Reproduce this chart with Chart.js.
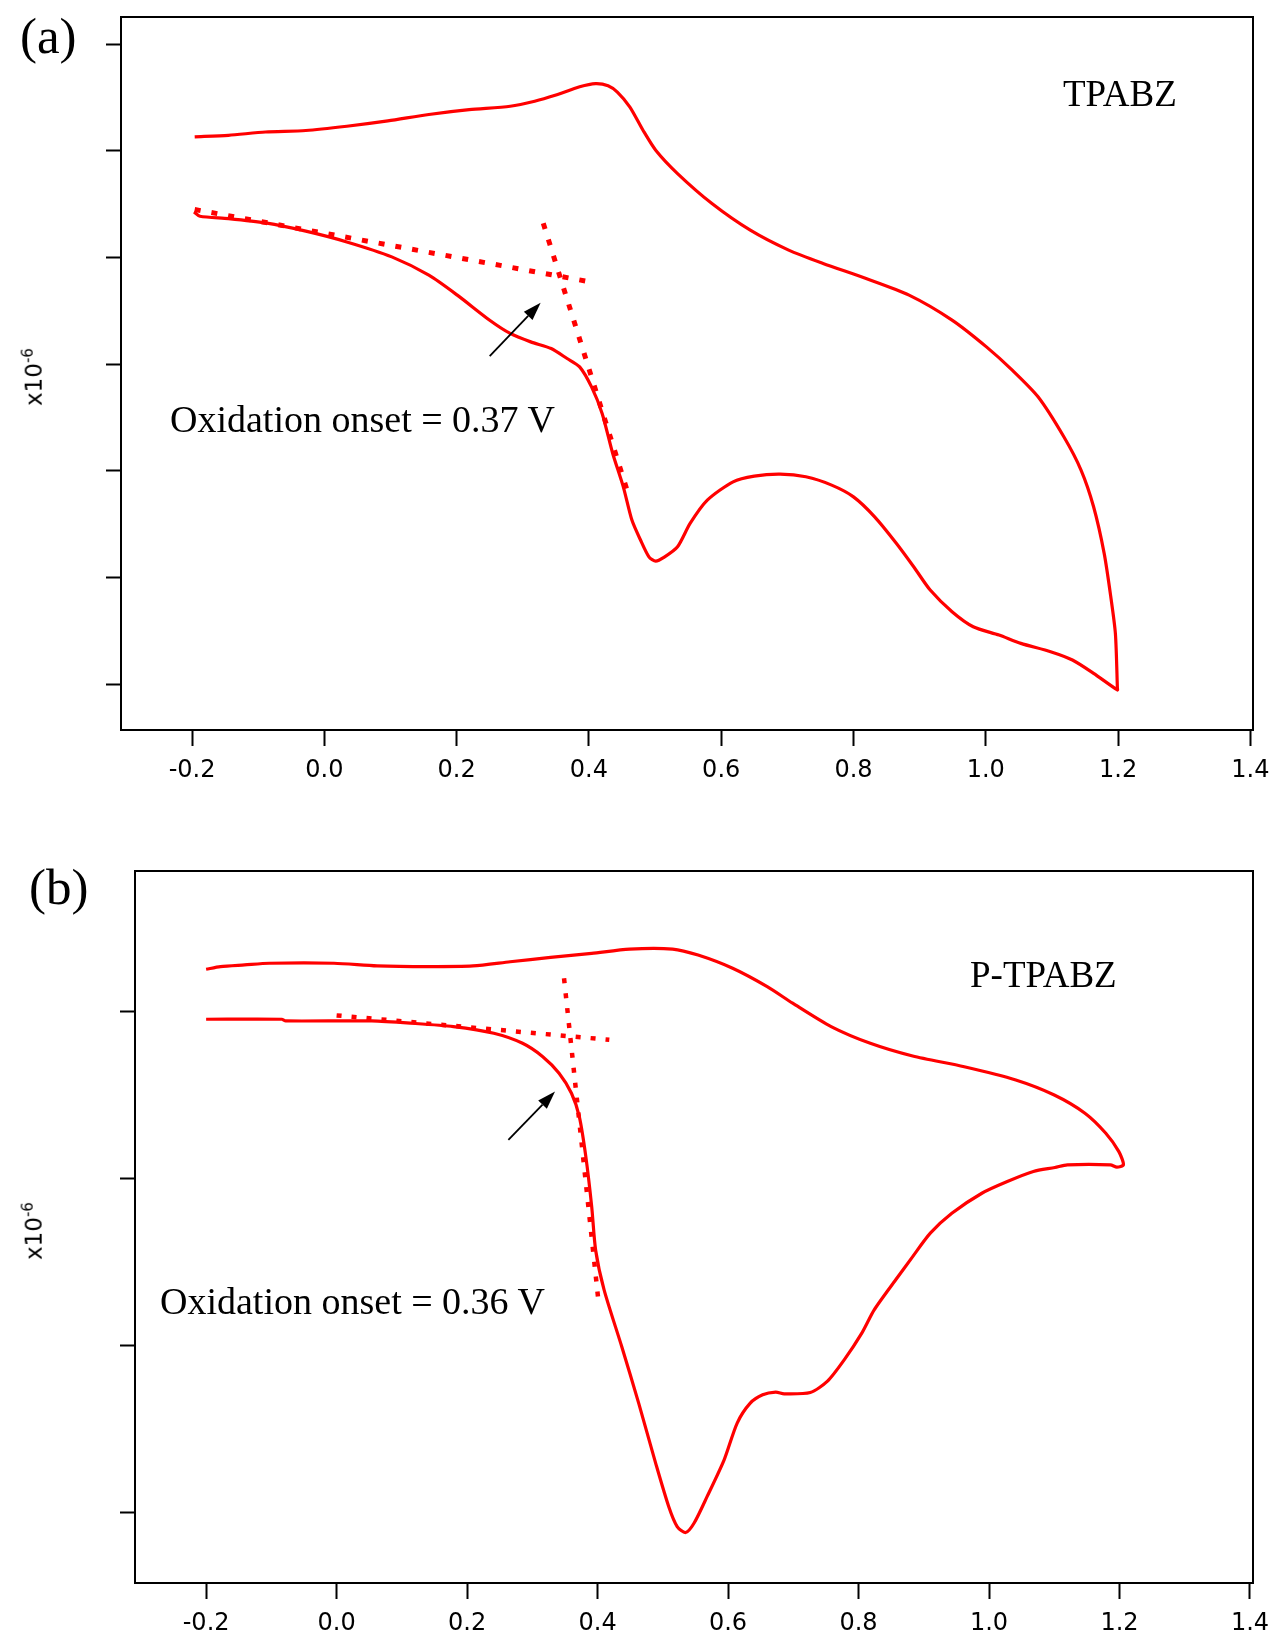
<!DOCTYPE html>
<html>
<head>
<meta charset="utf-8">
<script src="https://cdn.jsdelivr.net/npm/chart.js@4.4.1/dist/chart.umd.min.js"></script>
<style>
  body { margin: 0; background: #fff; }
  #page { position: relative; width: 1273px; height: 1639px; overflow: hidden; background: #fff; }
  canvas { position: absolute; left: 0; }
  #chartA { top: 0; }
  #chartB { top: 820px; }
  .note { position: absolute; font-family: "Liberation Serif", "Times New Roman", serif; color: #000; line-height: 1; white-space: nowrap; }
  .ylab { position: absolute; font-family: "DejaVu Sans", sans-serif; font-size: 23px; line-height: 1; color: #000;
          white-space: nowrap; transform: translate(-50%, -50%) rotate(-90deg); }
  .ylab sup { font-size: 15px; }
</style>
</head>
<body>
<div id="page">
  <canvas id="chartA" width="1273" height="810"></canvas>
  <canvas id="chartB" width="1273" height="819"></canvas>

  <div class="note" style="left:20px; top:11px; font-size:51px;">(a)</div>
  <div class="note" style="left:1063px; top:75px; font-size:37px;">TPABZ</div>
  <div class="note" style="left:170px; top:400px; font-size:38px;">Oxidation onset = 0.37 V</div>
  <div class="ylab" style="left:33px; top:377px;">x10<sup>-6</sup></div>

  <div class="note" style="left:29px; top:862px; font-size:51px;">(b)</div>
  <div class="note" style="left:970px; top:956px; font-size:37px;">P-TPABZ</div>
  <div class="note" style="left:160px; top:1282px; font-size:38px;">Oxidation onset = 0.36 V</div>
  <div class="ylab" style="left:33px; top:1231px;">x10<sup>-6</sup></div>
</div>

<script>
// potential axis ticks (V), shared by both panels
const xTicks = [-0.2, 0.0, 0.2, 0.4, 0.6, 0.8, 1.0, 1.2, 1.4];
// current ticks (x10^-6 A, unlabeled in the original)
const yTicksA = [0, 1, 2, 3, 4, 5, 6];
const yTicksB = [0, 1, 2, 3];

// (a) TPABZ cyclic voltammogram, one closed loop
const cvA_E = [-0.196, -0.145, -0.089, -0.028, 0.034, 0.096, 0.158, 0.219, 0.281, 0.318, 0.349, 0.386, 0.410, 0.429,
  0.443, 0.462, 0.482, 0.501, 0.534, 0.586, 0.644, 0.702, 0.754, 0.819, 0.884, 0.949, 1.001, 1.040, 1.079, 1.118,
  1.144, 1.163, 1.179, 1.189, 1.196, 1.199, 1.199,
  1.163, 1.131, 1.098, 1.053, 1.020, 0.981, 0.949, 0.916, 0.891, 0.865, 0.832, 0.800, 0.767, 0.728, 0.689, 0.650,
  0.618, 0.579, 0.553, 0.534, 0.514, 0.501, 0.491, 0.478, 0.465, 0.452, 0.436, 0.420, 0.404, 0.386, 0.367, 0.343,
  0.312, 0.281, 0.250, 0.201, 0.158, 0.102, 0.034, -0.028, -0.089, -0.145, -0.188, -0.197];
const cvA_I = [5.13, 5.145, 5.176, 5.19, 5.23, 5.28, 5.34, 5.385, 5.417, 5.464, 5.52, 5.60, 5.63, 5.61,
  5.55, 5.41, 5.19, 5.005, 4.786, 4.505, 4.255, 4.068, 3.943, 3.802, 3.646, 3.412, 3.161, 2.943, 2.693, 2.318,
  2.006, 1.662, 1.225, 0.818, 0.471, -0.04, -0.056,
  0.10, 0.225, 0.303, 0.381, 0.459, 0.537, 0.678, 0.881, 1.10, 1.318, 1.568, 1.755, 1.865, 1.943, 1.968, 1.949,
  1.896, 1.724, 1.506, 1.287, 1.19, 1.153, 1.19, 1.35, 1.537, 1.849, 2.162, 2.537, 2.786, 2.974, 3.052, 3.146,
  3.208, 3.287, 3.411, 3.646, 3.833, 4.005, 4.145, 4.246, 4.323, 4.364, 4.386, 4.427];
// (a) onset tangents
const baseA_E = [-0.196, 0.4105];
const baseA_I = [4.449, 3.761];
const riseA_E = [0.331, 0.457];
const riseA_I = [4.32, 1.83];
const arrowA = { from: [0.250, 3.074], to: [0.327, 3.574] };

// (b) P-TPABZ cyclic voltammogram
const cvB_E = [-0.200, -0.178, -0.141, -0.103, -0.004, 0.062, 0.141, 0.209, 0.266, 0.328, 0.391, 0.449, 0.515,
  0.554, 0.607, 0.660, 0.699, 0.758, 0.818, 0.883, 0.962, 1.041, 1.100, 1.147, 1.179, 1.199, 1.206, 1.196,
  1.186, 1.120, 1.101, 1.068, 1.028, 0.989, 0.943, 0.910, 0.883, 0.857, 0.824, 0.805, 0.778, 0.752, 0.726, 0.686,
  0.673, 0.653, 0.634, 0.614, 0.594, 0.568, 0.548, 0.535, 0.522, 0.509, 0.489, 0.463, 0.437, 0.410, 0.397, 0.391,
  0.382, 0.372, 0.360, 0.341, 0.316, 0.285, 0.241, 0.179, 0.116, 0.054, -0.078, -0.084, -0.200];
const cvB_I = [3.25, 3.266, 3.276, 3.286, 3.286, 3.27, 3.266, 3.27, 3.295, 3.321, 3.345, 3.371, 3.371,
  3.335, 3.256, 3.146, 3.047, 2.907, 2.807, 2.731, 2.667, 2.588, 2.498, 2.389, 2.269, 2.159, 2.08, 2.066,
  2.08, 2.08, 2.064, 2.04, 1.98, 1.91, 1.79, 1.671, 1.531, 1.392, 1.212, 1.073, 0.913, 0.784, 0.718, 0.71,
  0.72, 0.704, 0.654, 0.535, 0.315, 0.096, -0.063, -0.12, -0.084, 0.036, 0.295, 0.654, 0.993, 1.332, 1.571, 1.83,
  2.129, 2.368, 2.508, 2.628, 2.727, 2.807, 2.867, 2.907, 2.927, 2.941, 2.941, 2.951, 2.951];
const baseB_E = [0.0, 0.418];
const baseB_I = [2.974, 2.828];
const riseB_E = [0.3486, 0.402];
const riseB_I = [3.196, 1.24];
const arrowB = { from: [0.2633, 2.229], to: [0.3348, 2.518] };

function pts(xs, ys) {
  return xs.map((x, i) => ({ x: x, y: ys[i] }));
}

// Simple black arrow drawn in data coordinates
const arrowPlugin = {
  id: 'arrow',
  afterDatasetsDraw(chart, args, opts) {
    if (!opts.from) return;
    const ctx = chart.ctx;
    const sx = chart.scales.x, sy = chart.scales.y;
    const x0 = sx.getPixelForValue(opts.from[0]), y0 = sy.getPixelForValue(opts.from[1]);
    const x1 = sx.getPixelForValue(opts.to[0]), y1 = sy.getPixelForValue(opts.to[1]);
    const ang = Math.atan2(y1 - y0, x1 - x0);
    const len = 18, half = 6;
    const bx = x1 - len * Math.cos(ang), by = y1 - len * Math.sin(ang);
    ctx.save();
    ctx.strokeStyle = '#000';
    ctx.fillStyle = '#000';
    ctx.lineWidth = 1.8;
    ctx.beginPath();
    ctx.moveTo(x0, y0);
    ctx.lineTo(bx, by);
    ctx.stroke();
    ctx.beginPath();
    ctx.moveTo(x1, y1);
    ctx.lineTo(bx + half * Math.sin(ang), by - half * Math.cos(ang));
    ctx.lineTo(bx - half * Math.sin(ang), by + half * Math.cos(ang));
    ctx.closePath();
    ctx.fill();
    ctx.restore();
  }
};

function frameAxis(pos) {
  return {
    type: 'linear', position: pos, min: 0, max: 1,
    grid: { display: true, drawOnChartArea: false, drawTicks: false },
    ticks: { display: false },
    border: { display: true, color: '#000', width: 2 },
    afterFit: s => { if (pos === 'top') s.height = 0; else s.width = 0; }
  };
}

function makeChart(id, cfg) {
  const dotted = {
    borderColor: '#ff0000', borderWidth: cfg.dotWidth, borderDash: cfg.dash,
    pointRadius: 0, showLine: true, fill: false, tension: 0
  };
  return new Chart(document.getElementById(id), {
    type: 'scatter',
    data: {
      datasets: [
        { data: pts(cfg.cvE, cfg.cvI), borderColor: '#ff0000', borderWidth: 3.2, pointRadius: 0,
          showLine: true, fill: false, tension: 0.25, borderJoinStyle: 'round' },
        Object.assign({ data: pts(cfg.baseE, cfg.baseI) }, dotted),
        Object.assign({ data: pts(cfg.riseE, cfg.riseI) }, dotted)
      ]
    },
    options: {
      responsive: false,
      animation: false,
      events: [],
      layout: { padding: { top: cfg.padTop, right: 20, left: 0, bottom: 0 } },
      plugins: { legend: { display: false }, tooltip: { enabled: false }, arrow: cfg.arrow },
      scales: {
        x: {
          type: 'linear', position: 'bottom', min: cfg.xMin, max: cfg.xMax,
          afterBuildTicks: s => { s.ticks = xTicks.map(v => ({ value: v })); },
          afterFit: s => { s.height = cfg.xHeight; s.paddingLeft = 0; s.paddingRight = 0; },
          grid: { drawOnChartArea: false, drawTicks: true, tickLength: 16, tickWidth: 2, tickColor: '#000' },
          border: { display: true, color: '#000', width: 2 },
          ticks: {
            color: '#000', padding: 10, maxRotation: 0, autoSkip: false,
            font: { family: 'DejaVu Sans', size: 24 },
            callback: v => (Math.abs(v) < 1e-9 ? 0 : v).toFixed(1)
          }
        },
        y: {
          type: 'linear', position: 'left', min: cfg.yMin, max: cfg.yMax,
          afterBuildTicks: s => { s.ticks = cfg.yTicks.map(v => ({ value: v })); },
          afterFit: s => { s.width = cfg.yWidth; s.paddingTop = 0; s.paddingBottom = 0; },
          grid: { drawOnChartArea: false, drawTicks: true, tickLength: 15, tickWidth: 2, tickColor: '#000' },
          border: { display: true, color: '#000', width: 2 },
          ticks: { display: false }
        },
        x2: frameAxis('top'),
        y2: frameAxis('right')
      }
    },
    plugins: [arrowPlugin]
  });
}

makeChart('chartA', {
  cvE: cvA_E, cvI: cvA_I, baseE: baseA_E, baseI: baseA_I, riseE: riseA_E, riseI: riseA_I,
  arrow: arrowA, dotWidth: 5, dash: [6, 11],
  xMin: -0.3074, xMax: 1.404, yMin: -0.431, yMax: 6.254, yTicks: yTicksA,
  padTop: 17, xHeight: 80, yWidth: 121
});

makeChart('chartB', {
  cvE: cvB_E, cvI: cvB_I, baseE: baseB_E, baseI: baseB_I, riseE: riseB_E, riseI: riseB_I,
  arrow: arrowB, dotWidth: 4.5, dash: [5, 10],
  xMin: -0.309, xMax: 1.4046, yMin: -0.422, yMax: 3.838, yTicks: yTicksB,
  padTop: 51, xHeight: 56, yWidth: 135
});
</script>
</body>
</html>
